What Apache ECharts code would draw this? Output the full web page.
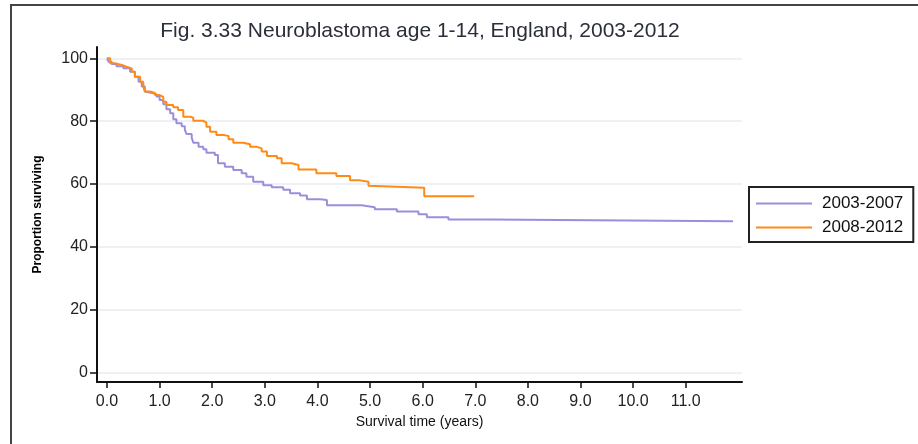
<!DOCTYPE html>
<html>
<head>
<meta charset="utf-8">
<script src="https://cdn.jsdelivr.net/npm/echarts@6/dist/echarts.min.js"></script>
<style>
  html, body { margin: 0; padding: 0; background: #fff; }
  #chart { width: 918px; height: 444px; }
</style>
</head>
<body>
<div id="chart"></div>
<script>
// Kaplan-Meier steps: [years, % surviving]
const times0307 = [0, 0.03, 0.09, 0.18, 0.31, 0.44, 0.53, 0.60, 0.66, 0.72, 0.75, 0.88, 0.94, 1.00, 1.07, 1.13, 1.20, 1.26, 1.32, 1.42, 1.48, 1.51, 1.61, 1.64, 1.74, 1.83, 1.89, 2.05, 2.11, 2.24, 2.40, 2.56, 2.65, 2.78, 2.97, 3.13, 3.35, 3.48, 3.67, 3.80, 4.05, 4.18, 4.84, 5.09, 5.51, 5.92, 6.08, 6.49, 7.28, 11.9];
const surv0307  = [100, 98.9, 98.2, 97.5, 96.8, 95.7, 94.1, 92.5, 91.0, 89.4, 88.9, 88.5, 87.8, 86.7, 85.4, 83.8, 82.5, 80.6, 79.3, 78.4, 77.2, 75.9, 74.8, 73.1, 71.8, 71.0, 69.9, 69.2, 66.6, 65.5, 64.4, 63.4, 62.3, 60.7, 59.6, 58.9, 58.1, 57.0, 56.3, 55.1, 54.9, 53.2, 52.6, 51.9, 51.2, 50.3, 49.4, 48.7, 48.1, 48.1];

const times0812 = [0, 0.06, 0.15, 0.28, 0.37, 0.47, 0.53, 0.63, 0.69, 0.72, 0.82, 0.91, 1.00, 1.07, 1.13, 1.26, 1.35, 1.45, 1.58, 1.64, 1.83, 1.89, 1.96, 2.08, 2.21, 2.31, 2.40, 2.59, 2.72, 2.85, 2.94, 3.04, 3.23, 3.32, 3.51, 3.64, 3.98, 4.36, 4.62, 4.78, 4.97, 5.00, 6.03, 6.98];
const surv0812  = [100, 98.4, 97.9, 97.3, 96.8, 95.7, 94.1, 92.5, 91.0, 89.4, 89.0, 88.3, 87.7, 86.2, 85.1, 84.4, 83.5, 81.4, 81.1, 80.1, 79.5, 78.2, 76.6, 75.6, 75.3, 74.2, 73.1, 72.6, 71.8, 71.3, 70.3, 68.9, 68.2, 66.6, 66.0, 64.6, 63.4, 62.5, 61.2, 60.7, 59.4, 58.8, 56.1, 56.1];

const xTicks = [0, 1, 2, 3, 4, 5, 6, 7, 8, 9, 10, 11];
const yTicks = [0, 20, 40, 60, 80, 100];
const seriesNames = ['2003-2007', '2008-2012'];

const zip = (a, b) => a.map((t, i) => [t, b[i]]);

const chart = echarts.init(document.getElementById('chart'), null, { renderer: 'canvas' });

const font = 'Liberation Sans, Arial, sans-serif';

chart.setOption({
  animation: false,
  backgroundColor: '#fff',
  title: {
    text: 'Fig. 3.33 Neuroblastoma age 1-14, England, 2003-2012',
    left: 415,
    top: 16,
    textAlign: 'center',
    textStyle: { fontFamily: font, fontSize: 21, fontWeight: 'normal', color: '#2b2f3a' }
  },
  graphic: [{
    type: 'rect',
    shape: { x: 11, y: 5, width: 940, height: 470 },
    style: { fill: 'none', stroke: '#444', lineWidth: 2 },
    silent: true
  }],
  legend: {
    orient: 'vertical',
    left: 749,
    top: 187,
    padding: [8, 10, 6, 7],
    icon: 'rect',
    itemWidth: 56,
    itemHeight: 2,
    itemGap: 7,
    borderColor: '#222',
    borderWidth: 2,
    borderRadius: 0,
    data: seriesNames,
    textStyle: { fontFamily: font, fontSize: 17, color: '#111', padding: [0, 0, 0, 5] }
  },
  grid: { left: 97, right: 176, top: 47, bottom: 62, containLabel: false },
  xAxis: {
    type: 'value',
    min: -0.19,
    max: 12.07,
    name: 'Survival time (years)',
    nameLocation: 'middle',
    nameGap: 33,
    nameTextStyle: { fontFamily: font, fontSize: 14, color: '#111' },
    axisLine: { show: true, onZero: false, lineStyle: { color: '#111', width: 2 } },
    axisTick: { show: true, customValues: xTicks, length: 6, lineStyle: { color: '#111', width: 1.5 } },
    axisLabel: {
      customValues: xTicks, margin: 12,
      fontFamily: font, fontSize: 16, color: '#222',
      formatter: v => v.toFixed(1)
    },
    splitLine: { show: false }
  },
  yAxis: {
    type: 'value',
    min: -3.09,
    max: 103.6,
    name: 'Proportion surviving',
    nameLocation: 'middle',
    nameGap: 53,
    nameRotate: 90,
    nameTextStyle: { fontFamily: font, fontSize: 12, color: '#000', fontWeight: 'bold' },
    axisLine: { show: true, onZero: false, lineStyle: { color: '#111', width: 2 } },
    axisTick: { show: true, customValues: yTicks, length: 7, lineStyle: { color: '#111', width: 1.5 } },
    axisLabel: { customValues: yTicks, margin: 9, fontFamily: font, fontSize: 16, color: '#222' },
    splitLine: { show: true, customValues: yTicks, lineStyle: { color: '#e4edf1', width: 1.5 } }
  },
  series: [
    {
      name: seriesNames[0],
      type: 'line',
      step: 'end',
      symbol: 'none',
      data: zip(times0307, surv0307),
      lineStyle: { color: '#9a8fdc', width: 2 },
      itemStyle: { color: '#9a8fdc' }
    },
    {
      name: seriesNames[1],
      type: 'line',
      step: 'end',
      symbol: 'none',
      data: zip(times0812, surv0812),
      lineStyle: { color: '#ff8a16', width: 2 },
      itemStyle: { color: '#ff8a16' }
    }
  ]
});
</script>
</body>
</html>
